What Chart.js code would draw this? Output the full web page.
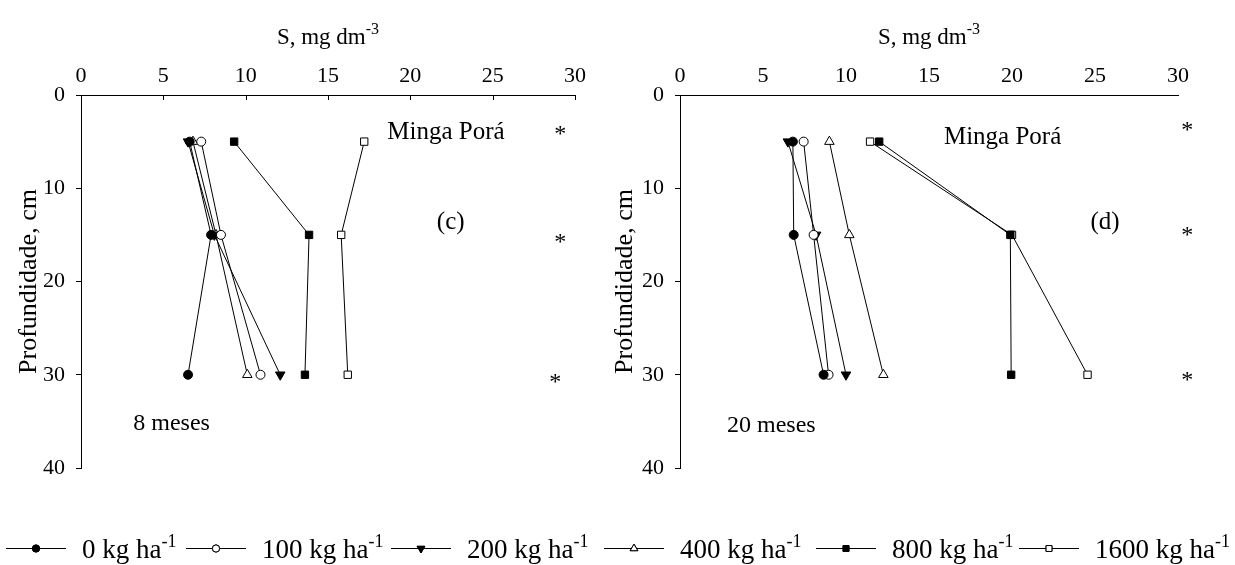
<!DOCTYPE html>
<html>
<head>
<meta charset="utf-8">
<script src="https://cdn.jsdelivr.net/npm/chart.js@4.4.1/dist/chart.umd.min.js"></script>
<style>
  html, body { margin: 0; padding: 0; background: #fff; }
  #wrap { position: relative; width: 1235px; height: 565px; overflow: hidden; }
  #chartC { position: absolute; left: 0; top: 0; }
  #chartD { position: absolute; left: 610px; top: 0; }
  #legend { position: absolute; left: 0; top: 515px; }
</style>
</head>
<body>
<div id="wrap">
  <canvas id="chartC" width="610" height="500"></canvas>
  <canvas id="chartD" width="625" height="500"></canvas>
  <canvas id="legend" width="1235" height="50"></canvas>
</div>
<script>
// depth of sampling, cm
const depths = [5, 15, 30];
const doses = ['0', '100', '200', '400', '800', '1600'];

// (c) 8 meses - S, mg dm-3 at 5, 15 and 30 cm
const sC0 = [6.6, 7.9, 6.5];
const sC100 = [7.3, 8.5, 10.9];
const sC200 = [6.5, 8.1, 12.1];
const sC400 = [6.8, 8.2, 10.1];
const sC800 = [9.3, 13.85, 13.6];
const sC1600 = [17.2, 15.8, 16.2];

// (d) 20 meses
const sD0 = [6.8, 6.85, 8.65];
const sD100 = [7.45, 8.05, 8.95];
const sD200 = [6.5, 8.2, 10.0];
const sD400 = [9.0, 10.2, 12.25];
const sD800 = [12.0, 19.9, 19.95];
const sD1600 = [11.45, 20.0, 24.55];

const xTicks = [0, 5, 10, 15, 20, 25, 30];
const yTicks = [0, 10, 20, 30, 40];

const SERIF = '"Liberation Serif", "Times New Roman", serif';

// marker look per dose
const marks = [
  { style: 'circle', fill: '#000', r: 4.5, rot: 0 },
  { style: 'circle', fill: '#fff', r: 4.5, rot: 0 },
  { style: 'triangle', fill: '#000', r: 5.5, rot: 180 },
  { style: 'triangle', fill: '#fff', r: 5.5, rot: 0 },
  { style: 'rect', fill: '#000', r: 5.2, rot: 0 },
  { style: 'rect', fill: '#fff', r: 5.2, rot: 0 }
];

function buildDatasets(series) {
  return series.map((vals, i) => ({
    label: doses[i] + ' kg ha-1',
    data: vals.map((v, k) => ({ x: v, y: depths[k] })),
    showLine: true,
    borderColor: '#000',
    borderWidth: 1,
    pointStyle: marks[i].style,
    pointRadius: marks[i].r,
    pointHoverRadius: marks[i].r,
    pointRotation: marks[i].rot,
    pointBackgroundColor: marks[i].fill,
    pointBorderColor: '#000',
    pointBorderWidth: 1,
    tension: 0,
    fill: false
  }));
}

// text with a raised exponent, e.g. dm-3
function drawSup(ctx, base, sup, x, y, size, align) {
  ctx.font = size + 'px ' + SERIF;
  const wb = ctx.measureText(base).width;
  ctx.font = Math.round(size * 0.68) + 'px ' + SERIF;
  const ws = ctx.measureText(sup).width;
  let x0 = x;
  if (align === 'center') x0 = x - (wb + ws) / 2;
  ctx.textAlign = 'left';
  ctx.textBaseline = 'alphabetic';
  ctx.font = size + 'px ' + SERIF;
  ctx.fillText(base, x0, y);
  ctx.font = Math.round(size * 0.68) + 'px ' + SERIF;
  ctx.fillText(sup, x0 + wb, y - size * 0.42);
  return wb + ws;
}

const panelText = {
  id: 'panelText',
  afterDraw(chart, args, opts) {
    const { ctx, chartArea } = chart;
    const x = chart.scales.x, y = chart.scales.y;
    ctx.save();
    ctx.fillStyle = '#000';
    drawSup(ctx, 'S, mg dm', '-3', (chartArea.left + chartArea.right) / 2, 44, 23, 'center');

    if (opts.innerTicks) {
      ctx.strokeStyle = '#000';
      ctx.lineWidth = 1;
      x.ticks.forEach(t => {
        const px = Math.round(x.getPixelForValue(t.value)) + 0.5;
        ctx.beginPath();
        ctx.moveTo(px, chartArea.top);
        ctx.lineTo(px, chartArea.top + 5);
        ctx.stroke();
      });
    }

    (opts.notes || []).forEach(n => {
      ctx.font = n.size + 'px ' + SERIF;
      ctx.textAlign = n.align || 'left';
      ctx.textBaseline = 'middle';
      ctx.fillText(n.text, x.getPixelForValue(n.x), y.getPixelForValue(n.y));
    });
    ctx.restore();
  }
};

function makeChart(id, series, cfg) {
  return new Chart(document.getElementById(id), {
    type: 'scatter',
    data: { datasets: buildDatasets(series) },
    plugins: [panelText],
    options: {
      responsive: false,
      animation: false,
      events: [],
      clip: false,
      layout: { padding: { left: 0, top: 0, right: cfg.padRight, bottom: 32 } },
      plugins: {
        legend: { display: false },
        tooltip: { enabled: false },
        panelText: { innerTicks: cfg.innerTicks, notes: cfg.notes }
      },
      scales: {
        x: {
          type: 'linear',
          position: 'top',
          min: 0,
          max: 30,
          afterBuildTicks: s => { s.ticks = xTicks.map(v => ({ value: v })); },
          ticks: { color: '#000', font: { family: SERIF, size: 22 }, padding: 6, maxRotation: 0 },
          grid: { display: false, drawTicks: false },
          border: { display: true, color: '#000', width: 1 },
          afterFit: s => { s.height = 95; }
        },
        y: {
          type: 'linear',
          reverse: true,
          min: 0,
          max: 40,
          afterBuildTicks: s => { s.ticks = yTicks.map(v => ({ value: v })); },
          ticks: { color: '#000', font: { family: SERIF, size: 22 }, padding: 11 },
          grid: { display: true, drawOnChartArea: false, drawTicks: true, tickLength: 5, color: '#000' },
          border: { display: true, color: '#000', width: 1 },
          title: {
            display: true,
            text: 'Profundidade, cm',
            color: '#000',
            font: { family: SERIF, size: 26 },
            padding: { top: cfg.titlePad, bottom: 0 }
          },
          afterFit: s => { s.width = cfg.axisLeft; }
        }
      }
    }
  });
}

makeChart('chartC', [sC0, sC100, sC200, sC400, sC800, sC1600], {
  axisLeft: 81,
  padRight: 35,
  titlePad: 14,
  innerTicks: true,
  notes: [
    { text: 'Minga Porá', x: 18.6, y: 4.0, size: 25 },
    { text: '(c)', x: 22.45, y: 13.7, size: 25, align: 'center' },
    { text: '*', x: 29.1, y: 4.3, size: 24, align: 'center' },
    { text: '*', x: 29.1, y: 15.8, size: 24, align: 'center' },
    { text: '*', x: 28.8, y: 30.8, size: 24, align: 'center' },
    { text: '8 meses', x: 5.5, y: 35.2, size: 24, align: 'center' }
  ]
});

makeChart('chartD', [sD0, sD100, sD200, sD400, sD800, sD1600], {
  axisLeft: 70,
  padRight: 57,
  titlePad: 0,
  innerTicks: false,
  notes: [
    { text: 'Minga Porá', x: 15.9, y: 4.6, size: 25 },
    { text: '(d)', x: 25.6, y: 13.7, size: 25, align: 'center' },
    { text: '*', x: 30.55, y: 3.8, size: 24, align: 'center' },
    { text: '*', x: 30.55, y: 15.1, size: 24, align: 'center' },
    { text: '*', x: 30.55, y: 30.6, size: 24, align: 'center' },
    { text: '20 meses', x: 5.5, y: 35.5, size: 24, align: 'center' }
  ]
});

// legend across both panels
(function drawLegend() {
  const cv = document.getElementById('legend');
  const ctx = cv.getContext('2d');
  const lineStart = [6, 186, 391, 604, 816, 1019];
  const lineLen = 60;
  const textGap = 16;
  const ly = 33;
  ctx.lineWidth = 1;
  doses.forEach((d, i) => {
    const x1 = lineStart[i];
    ctx.strokeStyle = '#000';
    ctx.beginPath();
    ctx.moveTo(x1, ly + 0.5);
    ctx.lineTo(x1 + lineLen, ly + 0.5);
    ctx.stroke();
    const m = marks[i];
    Chart.helpers.drawPoint(ctx, {
      pointStyle: m.style,
      rotation: m.rot,
      radius: m.r * 0.8,
      borderWidth: 1
    }, x1 + lineLen / 2, ly + 0.5);
    ctx.fillStyle = m.fill;
    ctx.fill();
    ctx.stroke();
    ctx.fillStyle = '#000';
    drawSup(ctx, d + ' kg ha', '-1', x1 + lineLen + textGap, ly + 10, 27, 'left');
  });
})();
</script>
</body>
</html>
